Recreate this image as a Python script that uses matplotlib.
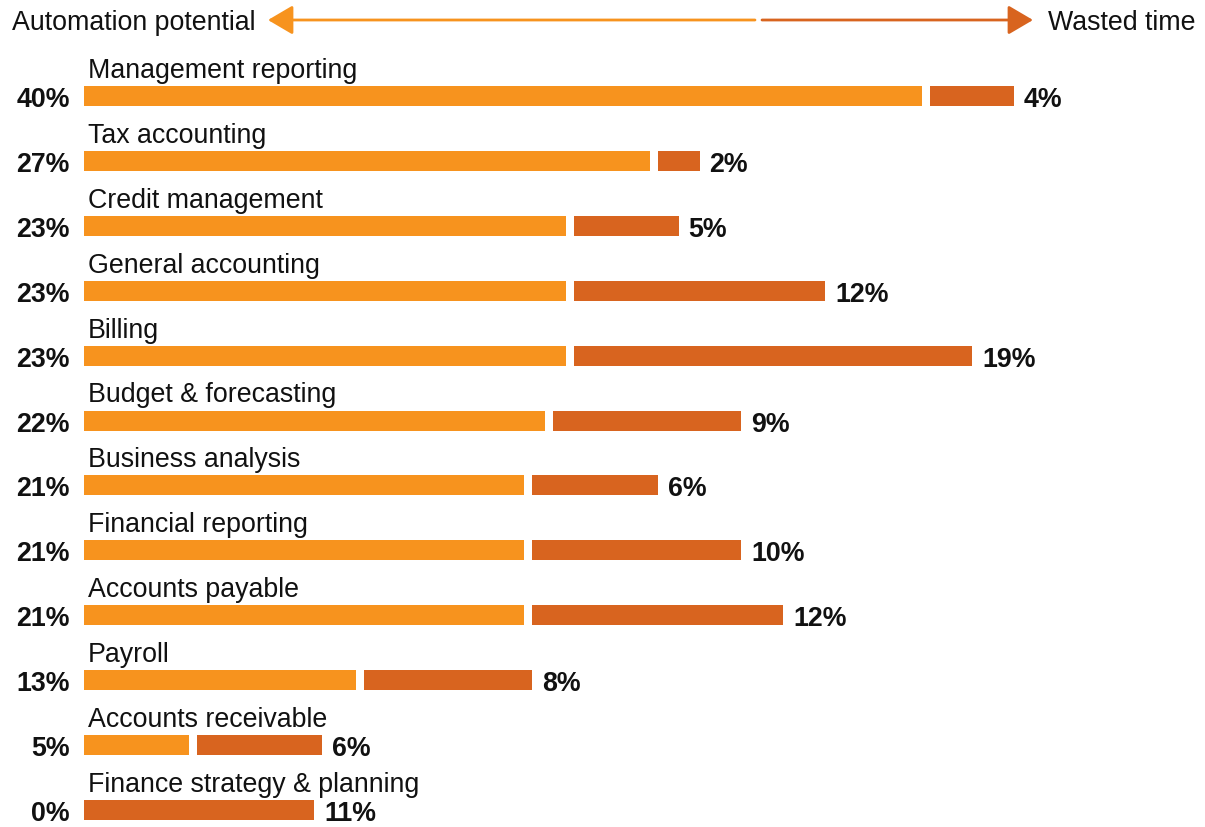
import matplotlib
matplotlib.use("Agg")
import matplotlib.pyplot as plt

# Data (percent)
categories = [
    "Management reporting", "Tax accounting", "Credit management",
    "General accounting", "Billing", "Budget & forecasting",
    "Business analysis", "Financial reporting", "Accounts payable",
    "Payroll", "Accounts receivable", "Finance strategy & planning",
]
automation = [40, 27, 23, 23, 23, 22, 21, 21, 21, 13, 5, 0]
wasted = [4, 2, 5, 12, 19, 9, 6, 10, 12, 8, 6, 11]

ORANGE = "#F7931E"
DARK = "#D8641F"
TEXT = "#111111"

plt.rcParams["font.family"] = ["Liberation Sans", "DejaVu Sans"]

W, H = 1205, 827
PX_PER_PCT = 20.95
ROW_PX = 64.9
X0_PX = 84
Y0_PX = 96

fig = plt.figure(figsize=(W / 100, H / 100), dpi=100)
fig.patch.set_facecolor("white")
ax = fig.add_axes([0, 0, 1, 1])
ax.set_xlim(-X0_PX / PX_PER_PCT, (W - X0_PX) / PX_PER_PCT)
ax.set_ylim((H - Y0_PX) / ROW_PX, -Y0_PX / ROW_PX)
ax.axis("off")

gap = 8 / PX_PER_PCT
bar_h = 20 / ROW_PX
fs = 19.3

for i, (cat, a, w) in enumerate(zip(categories, automation, wasted)):
    if a > 0:
        ax.barh(i, a, height=bar_h, left=0, color=ORANGE, edgecolor="none")
        wl = a + gap
    else:
        wl = 0
    ax.barh(i, w, height=bar_h, left=wl, color=DARK, edgecolor="none")

    ax.text(4 / PX_PER_PCT, i - 18 / ROW_PX, cat, ha="left", va="baseline",
            fontsize=fs, color=TEXT)
    ax.text(-14 / PX_PER_PCT, i + 1 / ROW_PX, f"{a}%", ha="right",
            va="center_baseline", fontsize=fs, fontweight="bold", color=TEXT)
    ax.text(wl + w + 10 / PX_PER_PCT, i + 1 / ROW_PX, f"{w}%", ha="left",
            va="center_baseline", fontsize=fs, fontweight="bold", color=TEXT)

# Top direction arrows
ya = (20 - Y0_PX) / ROW_PX
def px(x):
    return (x - X0_PX) / PX_PER_PCT

style = "-|>,head_length=0.85,head_width=0.5"
ax.annotate("", xy=(px(268), ya), xytext=(px(755), ya),
            arrowprops=dict(arrowstyle=style, mutation_scale=18, lw=2,
                            color=ORANGE, shrinkA=0, shrinkB=0))
ax.annotate("", xy=(px(1033), ya), xytext=(px(762), ya),
            arrowprops=dict(arrowstyle=style, mutation_scale=18, lw=2,
                            color=DARK, shrinkA=0, shrinkB=0))
ax.text(px(12), ya, "Automation potential", ha="left", va="center_baseline",
        fontsize=fs, color=TEXT)
ax.text(px(1196), ya, "Wasted time", ha="right", va="center_baseline",
        fontsize=fs, color=TEXT)

fig.savefig("out.png", dpi=100, facecolor=fig.get_facecolor())
